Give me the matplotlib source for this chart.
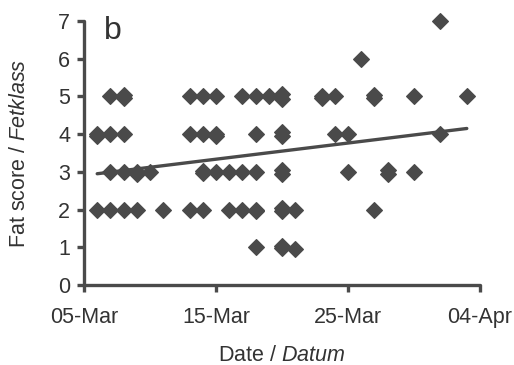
import pandas as pd
import matplotlib
matplotlib.use("Agg")
import matplotlib.pyplot as plt
import matplotlib.dates as mdates

# Fettklass per fågel och datum
obs_dates = [
    "2005-03-06", "2005-03-06", "2005-03-06",
    "2005-03-07", "2005-03-07", "2005-03-07", "2005-03-07",
    "2005-03-08", "2005-03-08", "2005-03-08", "2005-03-08", "2005-03-08",
    "2005-03-09", "2005-03-09", "2005-03-09",
    "2005-03-10",
    "2005-03-11",
    "2005-03-13", "2005-03-13", "2005-03-13",
    "2005-03-14", "2005-03-14", "2005-03-14", "2005-03-14", "2005-03-14",
    "2005-03-15", "2005-03-15", "2005-03-15", "2005-03-15",
    "2005-03-16", "2005-03-16",
    "2005-03-17", "2005-03-17", "2005-03-17",
    "2005-03-18", "2005-03-18", "2005-03-18", "2005-03-18", "2005-03-18", "2005-03-18",
    "2005-03-19",
    "2005-03-20", "2005-03-20", "2005-03-20", "2005-03-20", "2005-03-20",
    "2005-03-20", "2005-03-20", "2005-03-20", "2005-03-20", "2005-03-20",
    "2005-03-21", "2005-03-21",
    "2005-03-23", "2005-03-23",
    "2005-03-24", "2005-03-24",
    "2005-03-25", "2005-03-25",
    "2005-03-26",
    "2005-03-27", "2005-03-27", "2005-03-27",
    "2005-03-28", "2005-03-28",
    "2005-03-30", "2005-03-30",
    "2005-04-01", "2005-04-01",
    "2005-04-03",
]
obs_scores = [
    4.0, 3.95, 2.0,
    5.0, 4.0, 3.0, 2.0,
    5.04, 4.96, 4.0, 3.0, 2.0,
    3.0, 2.95, 2.0,
    3.0,
    2.0,
    5.0, 4.0, 2.0,
    5.0, 4.0, 3.03, 2.97, 2.0,
    5.0, 4.0, 3.95, 3.0,
    3.0, 2.0,
    5.0, 3.0, 2.0,
    5.0, 4.0, 3.0, 2.0, 1.96, 1.0,
    5.0,
    5.06, 4.94, 4.06, 3.94, 3.06, 2.94, 2.05, 1.97, 1.04, 0.98,
    2.0, 0.95,
    5.0, 4.97,
    5.0, 4.0,
    4.0, 3.0,
    6.0,
    5.05, 4.95, 2.0,
    3.05, 2.95,
    5.0, 3.0,
    7.0, 4.0,
    5.0,
]

# Regressionslinje (ändpunkter avlästa)
trend_dates = ["2005-03-06", "2005-04-03"]
trend_vals = [2.95, 4.15]

xtick_dates = ["2005-03-05", "2005-03-15", "2005-03-25", "2005-04-04"]
ytick_vals = [0, 1, 2, 3, 4, 5, 6, 7]

plt.rcParams["font.family"] = "Liberation Sans"
plt.rcParams["mathtext.fontset"] = "custom"
plt.rcParams["mathtext.rm"] = "Liberation Sans"
plt.rcParams["mathtext.it"] = "Liberation Sans:italic"

grey = "#4a4a4a"
txt = "#333333"

fig = plt.figure(figsize=(5.14, 3.65), dpi=100)
ax = fig.add_axes([84 / 514, 80 / 365, 396 / 514, 264 / 365])

ax.plot(pd.to_datetime(obs_dates), obs_scores, "D", ms=8.6, color=grey,
        mec=grey, mew=0.8, clip_on=False, zorder=3)
ax.plot(pd.to_datetime(trend_dates), trend_vals, "-", lw=2.4, color=grey,
        solid_capstyle="round", zorder=4)

ax.set_xlim(pd.Timestamp(xtick_dates[0]), pd.Timestamp(xtick_dates[-1]))
ax.set_ylim(0, 7)
ax.set_xticks(pd.to_datetime(xtick_dates))
ax.xaxis.set_major_formatter(mdates.DateFormatter("%d-%b"))
ax.set_yticks(ytick_vals)

for s in ["top", "right"]:
    ax.spines[s].set_visible(False)
for s in ["left", "bottom"]:
    ax.spines[s].set_linewidth(2.4)
    ax.spines[s].set_color(grey)
    ax.spines[s].set_capstyle("round")

ax.tick_params(length=5, width=2.4, color=grey, labelsize=15.5,
               labelcolor=txt)
ax.tick_params(axis="x", pad=11)
ax.tick_params(axis="y", pad=5)

ax.set_xlabel(r"Date / $\it{Datum}$", fontsize=15.5, color=txt, labelpad=12)
ax.set_ylabel(r"Fat score / $\it{Fetklass}$", fontsize=15.5, color=txt,
              labelpad=20)

ax.text(0.05, 1.02, "b", transform=ax.transAxes, fontsize=23, color=txt,
        va="top", ha="left")

fig.savefig("out.png", dpi=100)
